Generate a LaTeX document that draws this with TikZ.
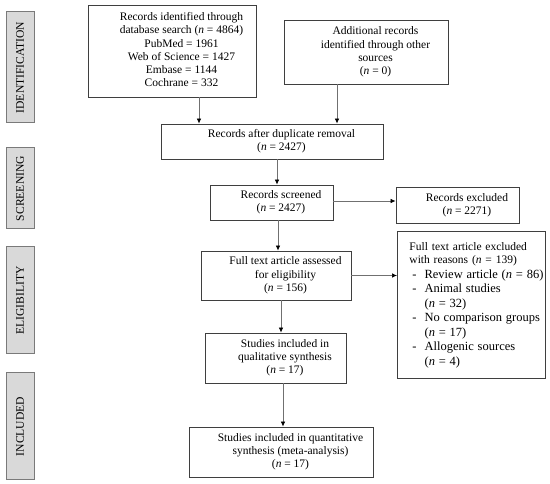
\documentclass[tikz,border=0pt]{standalone}
\usepackage{fontspec}
\setmainfont{Liberation Serif}
\usetikzlibrary{arrows.meta}
\newcommand{\boxtxt}[1]{\hspace*{19pt}\begin{tabular}{@{}c@{}}#1\end{tabular}}
\definecolor{boxline}{HTML}{3F3F3F}
\definecolor{arrline}{HTML}{707070}
\definecolor{stagefill}{HTML}{D9D9D9}
\definecolor{stageline}{HTML}{7A7A7A}
\tikzset{
  mainbox/.style={draw=boxline, line width=0.9pt, fill=white, inner sep=0pt,
    font=\fontsize{11.5}{13.2}\selectfont},
  stagebox/.style={draw=stageline, line width=1pt, fill=stagefill, inner sep=0pt,
    font=\fontsize{11.6}{13}\selectfont, rotate=90},
  arr/.style={draw=arrline, line width=0.7pt, -{Latex[length=5pt,width=4.5pt,black]}}
}
\begin{document}
\begin{tikzpicture}[x=1pt,y=-1pt]
\useasboundingbox (0,0) rectangle (550,484);
% stage labels
\node[stagebox, minimum width=111, minimum height=28] (sid) at (20,67.5) {IDENTIFICATION};
\node[stagebox, minimum width=81, minimum height=28] (ssc) at (20,188.5) {SCREENING};
\node[stagebox, minimum width=107, minimum height=28] (sel) at (20,300.5) {ELIGIBILITY};
\node[stagebox, minimum width=107, minimum height=28] (sin) at (20,426.5) {INCLUDED};
% main boxes
\node[mainbox, minimum width=168, minimum height=92] (b1) at (172,51)
  {\boxtxt{Records identified through\\database search (\textit{n} = 4864)\\PubMed = 1961\\Web of Science = 1427\\Embase = 1144\\Cochrane = 332}};
\node[mainbox, minimum width=164, minimum height=64] (b2) at (366,52)
  {\boxtxt{Additional records\\identified through other\\sources\\(\textit{n} = 0)}};
\node[mainbox, minimum width=222, minimum height=35] (b3) at (272,141.5)
  {\boxtxt{Records after duplicate removal\\(\textit{n} = 2427)}};
\node[mainbox, minimum width=123, minimum height=35] (b4) at (271.5,202.5)
  {\boxtxt{Records screened\\(\textit{n} = 2427)}};
\node[mainbox, minimum width=123, minimum height=36] (e1) at (457.5,205)
  {\boxtxt{Records excluded\\(\textit{n} = 2271)}};
\node[mainbox, minimum width=150, minimum height=49] (b5) at (276,275.5)
  {\boxtxt{Full text article assessed\\for eligibility\\(\textit{n} = 156)}};
\node[mainbox, minimum width=148, minimum height=147, anchor=north west,
  text width=140, align=left, inner xsep=0pt] (e2) at (397,231)
  {\hspace*{8pt}\begin{minipage}[t]{138pt}\vspace{2pt}%
   Full text article excluded\\with reasons (\textit{n} = 139)\\[1pt]
   {\fontsize{12.5}{14.5}\selectfont
   \begin{tabular}{@{\hspace{3pt}}l@{\hspace{8pt}}l@{}}
   - & Review article (\textit{n} = 86)\\
   - & Animal studies\\
     & (\textit{n} = 32)\\
   - & No comparison groups\\
     & (\textit{n} = 17)\\
   - & Allogenic sources\\
     & (\textit{n} = 4)
   \end{tabular}}\end{minipage}};
\node[mainbox, minimum width=141, minimum height=50] (b6) at (275.5,358)
  {\boxtxt{Studies included in\\qualitative synthesis\\(\textit{n} = 17)}};
\node[mainbox, minimum width=184, minimum height=50] (b7) at (281,452)
  {\boxtxt{Studies included in quantitative\\synthesis (meta-analysis)\\(\textit{n} = 17)}};
% arrows
\draw[arr] ([xshift=27pt]b1.south) -- ([xshift=27pt]b1.south |- b3.north);
\draw[arr] ([xshift=-29pt]b2.south) -- ([xshift=-29pt]b2.south |- b3.north);
\draw[arr] ([xshift=5pt]b3.south) -- ([xshift=5pt]b3.south |- b4.north);
\draw[arr] ([xshift=6.5pt]b4.south) -- ([xshift=6.5pt]b4.south |- b5.north);
\draw[arr] ([xshift=5pt]b5.south) -- ([xshift=5pt]b5.south |- b6.north);
\draw[arr] ([xshift=7.5pt]b6.south) -- ([xshift=7.5pt]b6.south |- b7.north);
\draw[arr] ([yshift=1.5pt]b4.east) -- ([yshift=1.5pt]b4.east -| e1.west);
\draw[arr] (b5.east) -- (b5.east -| e2.west);
\end{tikzpicture}
\end{document}
